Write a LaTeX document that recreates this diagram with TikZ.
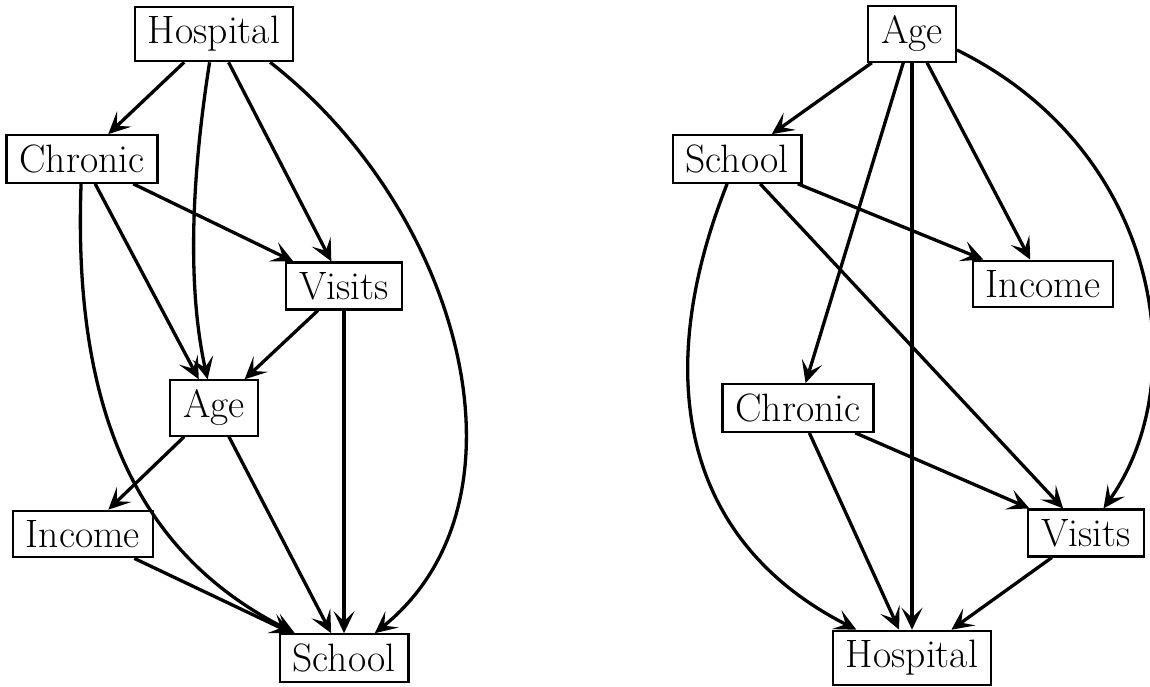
\documentclass[tikz,border=0pt]{standalone}
\usetikzlibrary{arrows.meta}
\begin{document}
\begin{tikzpicture}[x=0.5pt,y=-0.5pt,
  box/.style={draw,line width=1.1pt,inner xsep=6.5pt,inner ysep=4.8pt,font=\fontsize{19.8}{22}\selectfont},
  edge/.style={line width=1.65pt,-{Stealth[length=11pt,width=10.5pt,inset=5pt]}}]
\useasboundingbox (0,0) rectangle (1150,686);
% left graph
\node[box] (lh) at (214,34) {Hospital};
\node[box] (lc) at (82,159) {Chronic};
\node[box] (lv) at (344,286) {Visits};
\node[box] (la) at (214,408) {Age};
\node[box] (li) at (83,534) {Income};
\node[box] (ls) at (344,658) {School};
\draw[edge] (lh) -- (lc);
\draw[edge] (lh) .. controls (188,200) and (190,300) .. (la);
\draw[edge] (lh) -- (lv);
\draw[edge] ([xshift=-12pt]lh.south east) .. controls (460,210) and (540,500) .. (ls);
\draw[edge] (lc) -- (la);
\draw[edge] (lc) -- (lv);
\draw[edge] (lc) .. controls (72,430) and (150,560) .. (ls);
\draw[edge] (lv) -- (la);
\draw[edge] (lv) -- (ls);
\draw[edge] (la) -- (li);
\draw[edge] (la) -- (ls);
\draw[edge] (li) -- (ls);
% right graph
\node[box] (ra) at (912,34) {Age};
\node[box] (rs) at (737,159) {School};
\node[box] (ri) at (1043,284) {Income};
\node[box] (rc) at (798,408) {Chronic};
\node[box] (rv) at (1086,533) {Visits};
\node[box] (rh) at (912,658) {Hospital};
\draw[edge] (ra) -- (rs);
\draw[edge] (ra) -- (rc);
\draw[edge] (ra) -- (rh);
\draw[edge] (ra) -- (ri);
\draw[edge] ([yshift=-8pt]ra.east) .. controls (1160,150) and (1195,380) .. (rv);
\draw[edge] (rs) -- (ri);
\draw[edge] (rs) -- (rv);
\draw[edge] (rs) .. controls (652,373) and (680,540) .. (rh);
\draw[edge] (rc) -- (rv);
\draw[edge] (rc) -- (rh);
\draw[edge] (rv) -- (rh);
\end{tikzpicture}
\end{document}
